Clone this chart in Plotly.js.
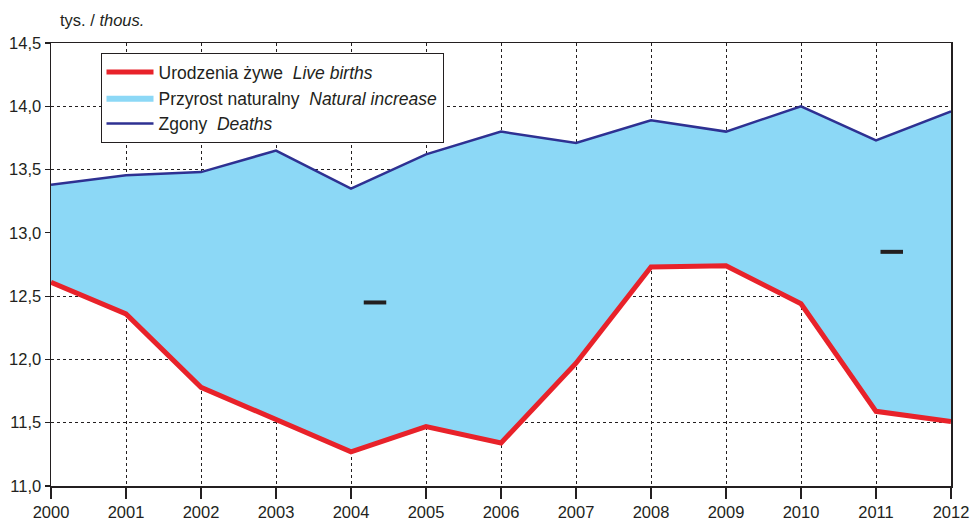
<!DOCTYPE html>
<html>
<head>
<meta charset="utf-8">
<script src="https://cdn.plot.ly/plotly-3.0.1.min.js"></script>
<style>html,body{margin:0;padding:0;background:#fff;}#chart{width:977px;height:520px;}</style>
</head>
<body>
<div id="chart"></div>
<script>
const years = [2000,2001,2002,2003,2004,2005,2006,2007,2008,2009,2010,2011,2012];
const liveBirths = [12.61,12.36,11.78,11.53,11.27,11.47,11.34,11.97,12.73,12.74,12.44,11.59,11.51];
const deaths = [13.38,13.455,13.48,13.65,13.35,13.62,13.80,13.71,13.89,13.80,14.00,13.73,13.96];
const yTicks = [11.0,11.5,12.0,12.5,13.0,13.5,14.0,14.5];
const negSignYears = [2004.32, 2011.21];
const negSignValues = [12.45, 12.85];

const red = '#E8222A', navy = '#2E3192', fillBlue = '#8CD8F6';

const traces = [
  {x: years, y: liveBirths, mode: 'lines', line: {color: red, width: 0}, showlegend: false, hoverinfo: 'skip'},
  {x: years, y: deaths, mode: 'lines', fill: 'tonexty', fillcolor: fillBlue, line: {width: 0, color: fillBlue},
   name: 'Przyrost naturalny  <i>Natural increase</i>', legendrank: 2},
  {x: years, y: deaths, mode: 'lines', line: {color: navy, width: 2.5},
   name: 'Zgony  <i>Deaths</i>', legendrank: 3},
  {x: years, y: liveBirths, mode: 'lines', line: {color: red, width: 5},
   name: 'Urodzenia żywe  <i>Live births</i>', legendrank: 1}
];

const shapes = negSignYears.map((yr, i) => ({
  type: 'line', xref: 'x', yref: 'y',
  x0: yr - 0.15, x1: yr + 0.15, y0: negSignValues[i], y1: negSignValues[i],
  line: {color: '#231F20', width: 4}
}));

const layout = {
  width: 977, height: 520,
  margin: {l: 51, r: 26, t: 43, b: 34},
  paper_bgcolor: '#fff', plot_bgcolor: '#fff',
  font: {family: 'Liberation Sans, Arial, sans-serif', size: 16, color: '#231F20'},
  separators: ', ',
  showlegend: true,
  legend: {
    x: 0.055, y: 0.977, xanchor: 'left', yanchor: 'top',
    bgcolor: '#fff', bordercolor: '#231F20', borderwidth: 1,
    font: {size: 17.5, color: '#231F20'}, traceorder: 'normal', itemwidth: 47
  },
  xaxis: {
    range: [2000, 2012], tickvals: years, ticktext: years.map(String),
    ticks: 'outside', ticklen: 11, tickwidth: 1.2, tickcolor: '#231F20',
    showline: true, linecolor: '#231F20', linewidth: 1.5, mirror: true,
    showgrid: true, gridcolor: '#231F20', griddash: 'dot', gridwidth: 1,
    zeroline: false, tickfont: {size: 16.5}
  },
  yaxis: {
    range: [11.0, 14.5], tickvals: yTicks, tickformat: '.1f',
    ticks: 'outside', ticklen: 5, tickwidth: 1.2, tickcolor: '#231F20',
    showline: true, linecolor: '#231F20', linewidth: 1.5, mirror: true,
    showgrid: true, gridcolor: '#231F20', griddash: 'dot', gridwidth: 1,
    zeroline: false, tickfont: {size: 16.5}
  },
  shapes: shapes,
  annotations: [{
    text: 'tys. / <i>thous.</i>', xref: 'paper', yref: 'paper',
    x: 0.008, y: 1, xanchor: 'left', yanchor: 'bottom', yshift: 12,
    showarrow: false, font: {size: 16.5, color: '#231F20'}
  }]
};

Plotly.newPlot('chart', traces, layout, {displayModeBar: false, staticPlot: true});
</script>
</body>
</html>
